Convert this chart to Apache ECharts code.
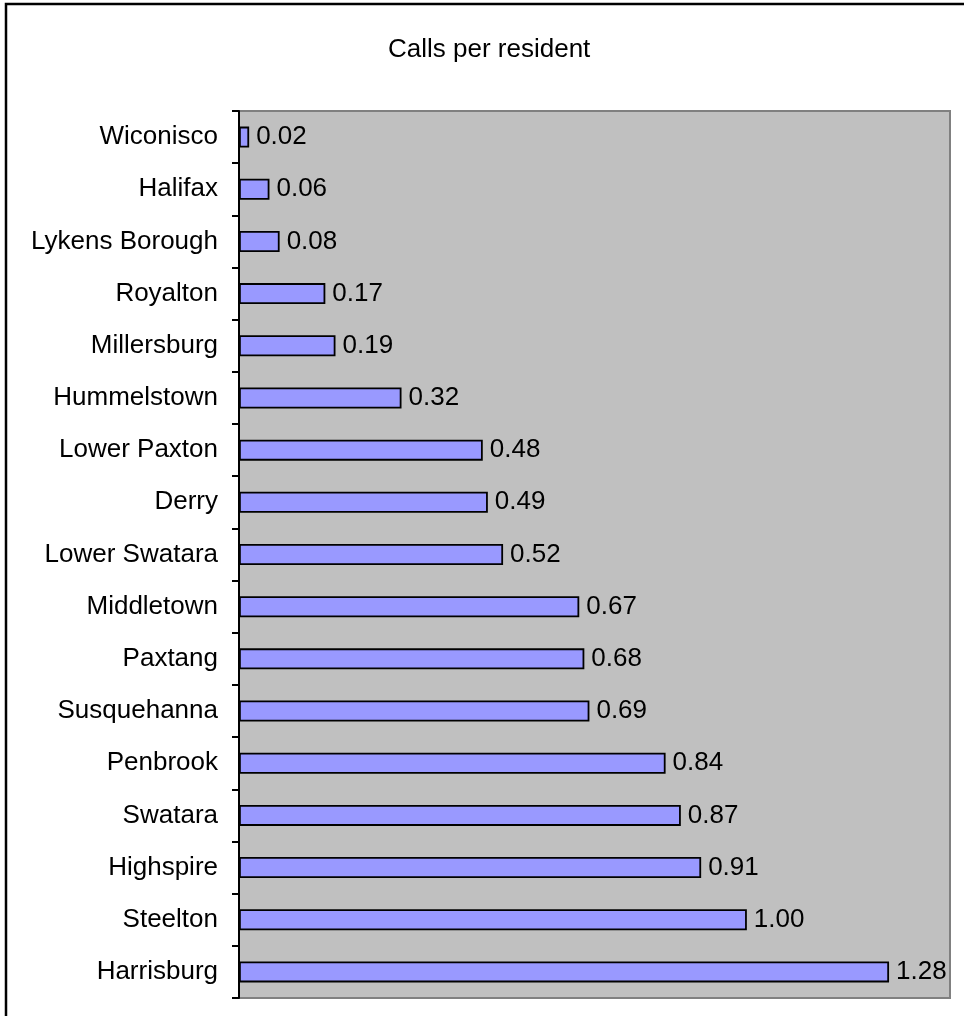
<!DOCTYPE html>
<html>
<head>
<meta charset="utf-8">
<script src="https://cdn.jsdelivr.net/npm/echarts@6/dist/echarts.min.js"></script>
<style>
html,body{margin:0;padding:0;background:#fff;}
#c{width:964px;height:1016px;}
</style>
</head>
<body>
<div id="c"></div>
<script>
const categories = ["Wiconisco","Halifax","Lykens Borough","Royalton","Millersburg","Hummelstown","Lower Paxton","Derry","Lower Swatara","Middletown","Paxtang","Susquehanna","Penbrook","Swatara","Highspire","Steelton","Harrisburg"];
const values = [0.02,0.06,0.08,0.17,0.19,0.32,0.48,0.49,0.52,0.67,0.68,0.69,0.84,0.87,0.91,1.00,1.28];
const titleText = "Calls per resident";

const FONT = "'Liberation Sans', Arial, sans-serif";
const chart = echarts.init(document.getElementById('c'), null, {renderer:'canvas'});
chart.setOption({
  backgroundColor: '#ffffff',
  animation: false,
  title: {
    text: titleText,
    left: 383,
    top: 32,
    textStyle: {fontFamily: FONT, fontSize: 26, fontWeight: 'normal', color: '#000'}
  },
  graphic: [{
    type: 'rect',
    shape: {x: 6, y: 4, width: 1000, height: 1100},
    style: {fill: 'none', stroke: '#000', lineWidth: 2.5},
    silent: true
  }],
  grid: {
    left: 239, top: 111, right: 14, bottom: 18,
    show: true, backgroundColor: '#C0C0C0', borderColor: '#808080', borderWidth: 2
  },
  xAxis: {
    type: 'value', min: 0, max: 1.4, show: false, splitLine: {show: false}
  },
  yAxis: {
    type: 'category',
    data: categories,
    inverse: true,
    axisLine: {show: true, lineStyle: {color: '#000', width: 2}},
    axisTick: {show: true, length: 7, inside: false, lineStyle: {color: '#000', width: 2}},
    axisLabel: {margin: 21, fontFamily: FONT, fontSize: 26, color: '#000'},
    splitLine: {show: false}
  },
  series: [{
    type: 'bar',
    data: values,
    barWidth: 21,
    itemStyle: {color: '#9999FF', borderColor: '#000', borderWidth: 1.8},
    label: {
      show: true, position: 'right', distance: 7,
      fontFamily: FONT, fontSize: 26, color: '#000',
      formatter: p => p.value.toFixed(2)
    }
  }]
});
</script>
</body>
</html>
